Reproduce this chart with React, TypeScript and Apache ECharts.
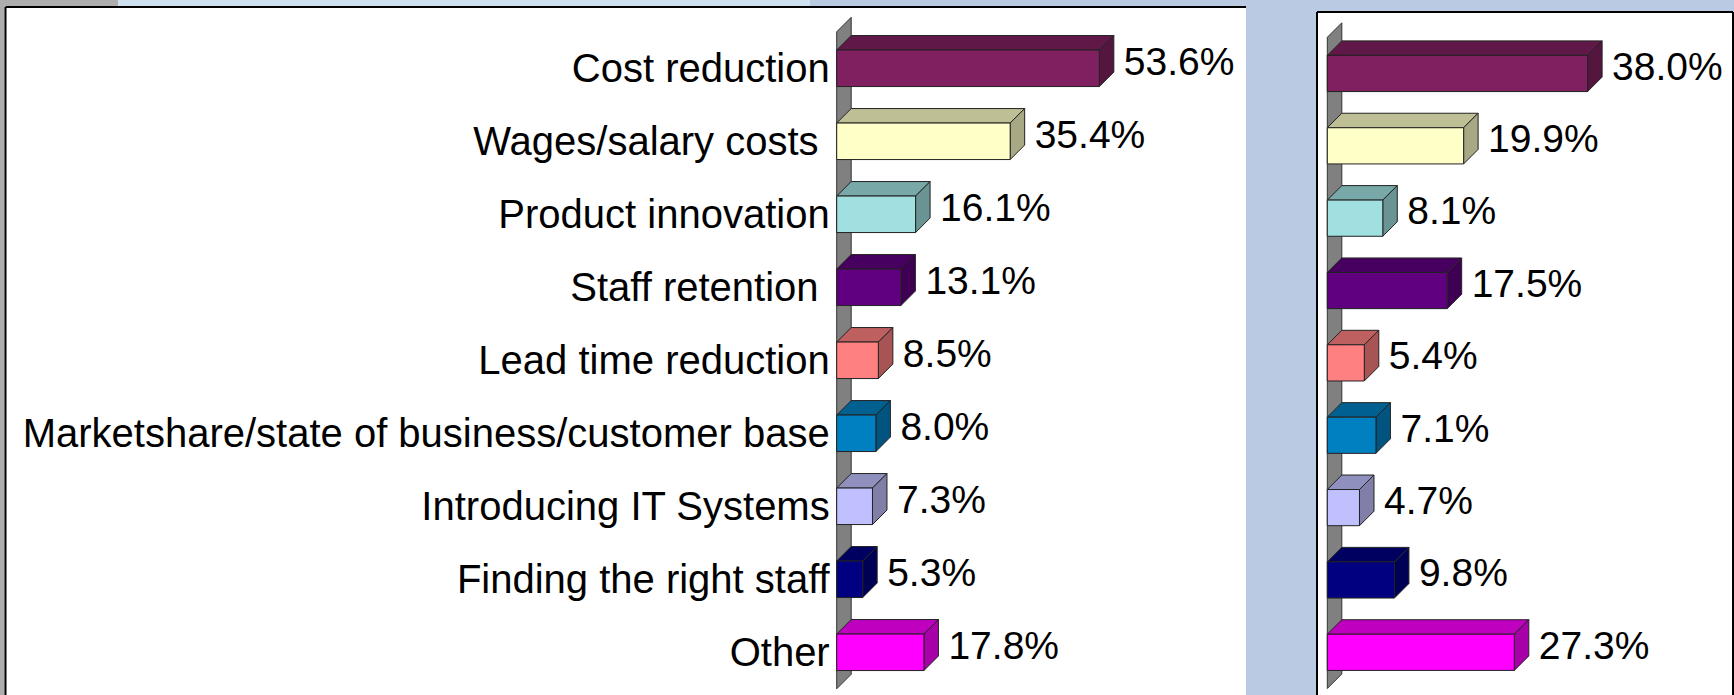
import React, { useEffect, useRef } from "react";
import * as echarts from "echarts";

const categories = [
  "Cost reduction",
  "Wages/salary costs ",
  "Product innovation",
  "Staff retention ",
  "Lead time reduction",
  "Marketshare/state of business/customer base",
  "Introducing IT Systems",
  "Finding the right staff",
  "Other",
];
const leftValues = [53.6, 35.4, 16.1, 13.1, 8.5, 8.0, 7.3, 5.3, 17.8];
const rightValues = [38.0, 19.9, 8.1, 17.5, 5.4, 7.1, 4.7, 9.8, 27.3];

const barColors = ["#802060", "#FFFFC8", "#A0E0E0", "#600080", "#FF8080", "#0080C0", "#C0C0FF", "#000080", "#FF00FF"];

const FONT = '"Liberation Sans", Arial, Helvetica, sans-serif';
const FS_CAT = 40;
const FS_VAL = 39;
const DEPTH = 14.5;

function shade(hex: string, k: number) {
  const n = parseInt(hex.slice(1), 16);
  const r = Math.round(((n >> 16) & 255) * k);
  const g = Math.round(((n >> 8) & 255) * k);
  const b = Math.round((n & 255) * k);
  return `rgb(${r},${g},${b})`;
}

const EDGE = "#222";

function barRender(params: any, api: any) {
  const v = api.value(0);
  const idx = api.value(1);
  const s = api.coord([0, idx]);
  const e = api.coord([v, idx]);
  const band = api.size([0, 1])[1];
  const h = band * 0.5;
  const d = DEPTH;
  const x0 = s[0];
  const x1 = e[0];
  const yc = s[1];
  const yt = yc - h / 2;
  const yb = yc + h / 2;
  const c = barColors[idx];
  return {
    type: "group",
    children: [
      {
        type: "polygon",
        shape: { points: [[x0, yt], [x0 + d, yt - d], [x1 + d, yt - d], [x1, yt]] },
        style: { fill: shade(c, 0.75), stroke: EDGE, lineWidth: 1 },
      },
      {
        type: "polygon",
        shape: { points: [[x1, yt], [x1 + d, yt - d], [x1 + d, yb - d], [x1, yb]] },
        style: { fill: shade(c, 0.66), stroke: EDGE, lineWidth: 1 },
      },
      {
        type: "rect",
        shape: { x: x0, y: yt, width: x1 - x0, height: h },
        style: { fill: c, stroke: EDGE, lineWidth: 1 },
      },
      {
        type: "text",
        x: x1 + d + 10,
        y: yc - d / 2,
        style: {
          text: v.toFixed(1) + "%",
          fill: "#000",
          fontSize: FS_VAL,
          fontFamily: FONT,
          align: "left",
          verticalAlign: "middle",
        },
      },
    ],
  };
}

function wallRender(params: any, api: any) {
  const cs = params.coordSys;
  const d = DEPTH;
  const x = cs.x;
  const y = cs.y;
  const h = cs.height;
  return {
    type: "polygon",
    shape: { points: [[x, y], [x + d, y - d], [x + d, y + h - d], [x, y + h]] },
    style: { fill: "#808080", stroke: "#333", lineWidth: 1 },
  };
}

export default function App() {
  const ref = useRef<HTMLDivElement>(null);
  useEffect(() => {
    document.body.style.margin = "0";
    const chart = echarts.init(ref.current!, undefined, { renderer: "svg" });
    const option: any = {
      animation: false,
      backgroundColor: "#B9CAE2",
      graphic: {
        elements: [
          { type: "rect", z: -5, shape: { x: 0, y: 0, width: 118, height: 6 }, style: { fill: "#ADADAD" } },
          { type: "rect", z: -5, shape: { x: 118, y: 0, width: 692, height: 6 }, style: { fill: "#CFE1EE" } },
          { type: "rect", z: -5, shape: { x: 0, y: 0, width: 4, height: 695 }, style: { fill: "#ADADAD" } },
          { type: "rect", z: -5, shape: { x: 5, y: 7, width: 1241, height: 700 }, style: { fill: "#FFFFFF" } },
          { type: "line", z: -4, shape: { x1: 5.5, y1: 7, x2: 1246, y2: 7 }, style: { stroke: "#000", lineWidth: 2 } },
          { type: "line", z: -4, shape: { x1: 5.5, y1: 7, x2: 5.5, y2: 695 }, style: { stroke: "#000", lineWidth: 2 } },
          { type: "rect", z: -5, shape: { x: 1317, y: 12, width: 416, height: 700 }, style: { fill: "#FFFFFF" } },
          { type: "line", z: -4, shape: { x1: 1317, y1: 12, x2: 1733, y2: 12 }, style: { stroke: "#000", lineWidth: 2 } },
          { type: "line", z: -4, shape: { x1: 1317, y1: 12, x2: 1317, y2: 695 }, style: { stroke: "#000", lineWidth: 2 } },
          { type: "line", z: -4, shape: { x1: 1733, y1: 12, x2: 1733, y2: 695 }, style: { stroke: "#000", lineWidth: 2 } },
        ],
      },
      grid: [
        { left: 836.7, top: 31.8, width: 294, height: 657, containLabel: false },
        { left: 1327.3, top: 37.3, width: 342.5, height: 651.2, containLabel: false },
      ],
      xAxis: [
        { type: "value", gridIndex: 0, min: 0, max: 60, show: false },
        { type: "value", gridIndex: 1, min: 0, max: 50, show: false },
      ],
      yAxis: [
        {
          type: "category",
          gridIndex: 0,
          data: categories,
          inverse: true,
          axisLine: { show: false },
          axisTick: { show: false },
          splitLine: { show: false },
          axisLabel: { color: "#000", fontSize: FS_CAT, fontFamily: FONT, margin: 7 },
        },
        {
          type: "category",
          gridIndex: 1,
          data: categories,
          inverse: true,
          axisLine: { show: false },
          axisTick: { show: false },
          splitLine: { show: false },
          axisLabel: { show: false },
        },
      ],
      series: [
        { type: "custom", xAxisIndex: 0, yAxisIndex: 0, z: 1, renderItem: wallRender, data: [[0, 0]], encode: { x: 0, y: 1 } },
        { type: "custom", xAxisIndex: 1, yAxisIndex: 1, z: 1, renderItem: wallRender, data: [[0, 0]], encode: { x: 0, y: 1 } },
        {
          type: "custom",
          xAxisIndex: 0,
          yAxisIndex: 0,
          z: 2,
          renderItem: barRender,
          data: leftValues.map((v, i) => [v, i]),
          encode: { x: 0, y: 1 },
        },
        {
          type: "custom",
          xAxisIndex: 1,
          yAxisIndex: 1,
          z: 2,
          renderItem: barRender,
          data: rightValues.map((v, i) => [v, i]),
          encode: { x: 0, y: 1 },
        },
      ],
    };
    chart.setOption(option);
    return () => chart.dispose();
  }, []);
  return <div ref={ref} style={{ position: "absolute", left: 0, top: 0, width: 1734, height: 695 }} />;
}
